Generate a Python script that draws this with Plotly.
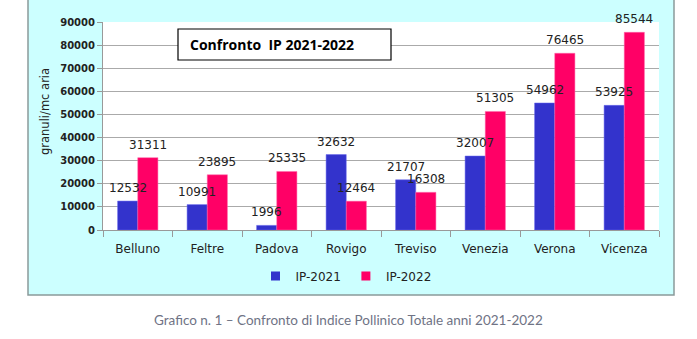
import plotly.graph_objects as go

categories = ["Belluno", "Feltre", "Padova", "Rovigo", "Treviso", "Venezia", "Verona", "Vicenza"]
ip2021 = [12532, 10991, 1996, 32632, 21707, 32007, 54962, 53925]
ip2022 = [31311, 23895, 25335, 12464, 16308, 51305, 76465, 85544]
yticks = [0, 10000, 20000, 30000, 40000, 50000, 60000, 70000, 80000, 90000]

W, H = 697, 339
L, R, T, B = 103, 38, 22, 109
pw, ph = W - L - R, H - T - B
BARGAP = 0.42

def px(x):
    return (x - L) / pw

def py(y):
    return (H - B - y) / ph

lab_font = dict(family="DejaVu Sans", size=12, color="#222222")
c1, c2 = "#3333CC", "#FF0066"

fig = go.Figure()
fig.add_trace(go.Bar(x=categories, y=ip2021, name="IP-2021", showlegend=False,
                     marker=dict(color=c1, line=dict(color="#6666ee", width=0.5))))
fig.add_trace(go.Bar(x=categories, y=ip2022, name="IP-2022", showlegend=False,
                     marker=dict(color=c2, line=dict(color="#ff66aa", width=0.5))))
# legend entries with small square symbols
fig.add_trace(go.Scatter(x=[None], y=[None], mode="markers", name="IP-2021",
                         marker=dict(symbol="square", size=9, color=c1)))
fig.add_trace(go.Scatter(x=[None], y=[None], mode="markers", name="IP-2022",
                         marker=dict(symbol="square", size=9, color=c2)))

# data labels drawn on top of all bars (as in the original)
cat_w = pw / len(categories)
half_bar = cat_w * (1 - BARGAP) / 4
annotations = []
for vals, sh in ((ip2021, -half_bar), (ip2022, half_bar)):
    for c, v in zip(categories, vals):
        annotations.append(dict(x=c, y=v, xref="x", yref="y", text=str(v), showarrow=False,
                                xanchor="center", yanchor="bottom", xshift=sh, yshift=4,
                                font=lab_font))

shapes = [
    dict(type="rect", xref="paper", yref="paper", x0=px(28), x1=px(674), y0=py(295), y1=py(-5),
         fillcolor="#CCFFFF", line=dict(color="#8a9a9a", width=1.5), layer="below"),
    dict(type="rect", xref="paper", yref="paper", x0=0, x1=1, y0=0, y1=1,
         fillcolor="white", line=dict(width=0), layer="below"),
    dict(type="rect", xref="paper", yref="paper", x0=px(178), x1=px(391), y0=py(60), y1=py(29),
         fillcolor="white", line=dict(color="black", width=1.2), layer="above"),
]

annotations += [
    dict(text="<b>Confronto  IP 2021-2022</b>", xref="paper", yref="paper", x=px(188), y=py(44.5),
         xanchor="left", yanchor="middle", showarrow=False,
         font=dict(family="Open Sans", size=14, color="black")),
    dict(text="granuli/mc aria", xref="paper", yref="paper", x=px(45), y=py(112),
         xanchor="center", yanchor="middle", showarrow=False, textangle=-90,
         font=dict(family="DejaVu Sans", size=11.5, color="#222222")),
    dict(text="Grafico n. 1 \u2013 Confronto di Indice Pollinico Totale anni 2021-2022",
         xref="paper", yref="paper", x=px(348), y=py(320), xanchor="center", yanchor="middle",
         showarrow=False, font=dict(family="Lato", size=13.5, color="#6f7385")),
]

fig.update_layout(
    width=W, height=H,
    margin=dict(l=L, r=R, t=T, b=B),
    paper_bgcolor="white", plot_bgcolor="white",
    barmode="group", bargap=BARGAP, bargroupgap=0,
    shapes=shapes, annotations=annotations,
    showlegend=True,
    legend=dict(orientation="h", x=px(346), xanchor="center", y=py(276), yanchor="middle",
                bgcolor="rgba(0,0,0,0)", font=dict(family="DejaVu Sans", size=12, color="#222222"),
                itemwidth=30, traceorder="normal", tracegroupgap=0),
    xaxis=dict(type="category", showgrid=False, showline=True, linecolor="#999999", linewidth=1,
               ticks="outside", tickson="boundaries", ticklen=6, tickcolor="#999999",
               ticklabelstandoff=8,
               tickfont=dict(family="DejaVu Sans", size=12, color="#222222")),
    yaxis=dict(range=[0, 90000], tickvals=yticks, ticktext=[f"<b>{v}</b>" for v in yticks],
               showgrid=True, gridcolor="#aaaaaa", gridwidth=1, zeroline=False,
               showline=True, linecolor="#999999", ticks="outside", ticklen=5, tickcolor="#999999",
               tickfont=dict(family="DejaVu Sans", size=10, color="#222222")),
)

fig.write_html("out.html")
